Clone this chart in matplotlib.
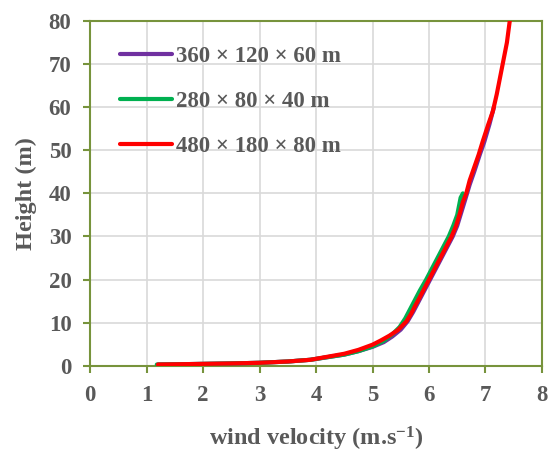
import matplotlib
matplotlib.use("Agg")
import matplotlib.pyplot as plt

# Series data (wind velocity m/s, height m)
red_x = [1.2, 1.5, 2.0, 2.5, 3.0, 3.5, 3.9, 4.2, 4.5, 4.75, 5.0, 5.15, 5.3, 5.45, 5.6, 5.68, 5.75, 5.82, 5.9, 6.0, 6.1, 6.2, 6.3, 6.4, 6.48, 6.55, 6.6, 6.66, 6.72, 6.8, 6.88, 6.95, 7.05, 7.13, 7.2, 7.26, 7.32, 7.38, 7.43]
red_y = [0.3, 0.35, 0.45, 0.55, 0.7, 1.0, 1.4, 2.1, 2.8, 3.7, 4.9, 5.9, 7.0, 8.3, 10.3, 12.0, 13.8, 15.5, 17.5, 20.0, 22.5, 25.0, 27.5, 30.0, 32.5, 35.5, 38.0, 40.0, 43.0, 46.0, 49.0, 52.0, 56.0, 59.0, 63.0, 67.0, 71.0, 75.0, 80.0]

purple_x = [1.2, 1.5, 2.0, 2.5, 3.0, 3.5, 3.9, 4.2, 4.5, 4.75, 5.0, 5.2, 5.35, 5.5, 5.62, 5.72, 5.82, 5.92, 6.02, 6.12, 6.22, 6.32, 6.42, 6.5, 6.57, 6.64, 6.72, 6.8, 6.9, 6.98, 7.07, 7.15]
purple_y = [0.3, 0.35, 0.45, 0.55, 0.7, 1.0, 1.4, 2.0, 2.6, 3.4, 4.4, 5.5, 6.8, 8.4, 10.3, 12.5, 15.0, 17.5, 20.0, 22.5, 25.0, 27.5, 30.0, 32.5, 35.5, 38.5, 42.0, 45.0, 49.0, 52.0, 56.0, 60.0]

green_x = [1.18, 1.5, 2.0, 2.5, 3.0, 3.5, 3.9, 4.2, 4.5, 4.75, 5.0, 5.2, 5.35, 5.48, 5.58, 5.66, 5.74, 5.84, 5.95, 6.05, 6.15, 6.25, 6.35, 6.43, 6.5, 6.53, 6.56, 6.6]
green_y = [0.3, 0.35, 0.45, 0.55, 0.7, 1.0, 1.4, 2.0, 2.6, 3.4, 4.5, 5.8, 7.3, 9.0, 11.0, 13.0, 15.0, 17.5, 20.0, 22.5, 25.0, 27.5, 30.0, 32.5, 35.0, 37.0, 39.0, 40.0]

labels = ["360 × 120 × 60 m", "280 × 80 × 40 m", "480 × 180 × 80 m"]
colors = ["#7030A0", "#00B050", "#FF0000"]

x_ticks = [0, 1, 2, 3, 4, 5, 6, 7, 8]
y_ticks = [0, 10, 20, 30, 40, 50, 60, 70, 80]

plt.rcParams['font.family'] = ['Liberation Serif', 'DejaVu Serif']
plt.rcParams['font.weight'] = 'bold'
plt.rcParams['mathtext.fontset'] = 'custom'
plt.rcParams['mathtext.rm'] = 'Liberation Serif:bold'
plt.rcParams['mathtext.bf'] = 'Liberation Serif:bold'
plt.rcParams['mathtext.it'] = 'Liberation Serif:bold'

fig = plt.figure(figsize=(5.53, 4.55), dpi=100)
ax = fig.add_axes([0.163, 0.196, 0.817, 0.758])

gray = "#595959"
spine = "#77933C"

ax.plot(purple_x, purple_y, color=colors[0], lw=3.0, label=labels[0], solid_capstyle='round', zorder=3)
ax.plot(green_x, green_y, color=colors[1], lw=3.0, label=labels[1], solid_capstyle='round', zorder=4)
ax.plot(red_x, red_y, color=colors[2], lw=3.0, label=labels[2], solid_capstyle='round', zorder=5)

ax.set_xlim(0, 8)
ax.set_ylim(0, 80)
ax.set_xticks(x_ticks)
ax.set_yticks(y_ticks)
ax.grid(True, color="#D9D9D9", lw=1.2)
ax.set_axisbelow(True)
for s in ax.spines.values():
    s.set_color(spine)
    s.set_linewidth(1.5)
ax.tick_params(axis='both', direction='out', length=5, width=1.5, color=spine,
               labelsize=16.5, labelcolor=gray, pad=8.5)
for lab in ax.get_xticklabels() + ax.get_yticklabels():
    lab.set_fontweight('bold')

ax.set_xlabel("wind velocity (m.s$^{\\mathbf{-1}}$)", fontsize=17.5, color=gray, fontweight='bold')
ax.set_ylabel("Height (m)", fontsize=17.5, color=gray, fontweight='bold')
ax.xaxis.set_label_coords(0.5, -0.172)
ax.yaxis.set_label_coords(-0.117, 0.5)

leg = ax.legend(loc='upper left', bbox_to_anchor=(0.066, 0.928), frameon=False,
                borderpad=0, borderaxespad=0,
                handlelength=2.25, handletextpad=0.2, labelspacing=1.06,
                prop={'size': 16.5, 'weight': 'bold'})
for t in leg.get_texts():
    t.set_color(gray)

fig.savefig("out.png", dpi=100)
